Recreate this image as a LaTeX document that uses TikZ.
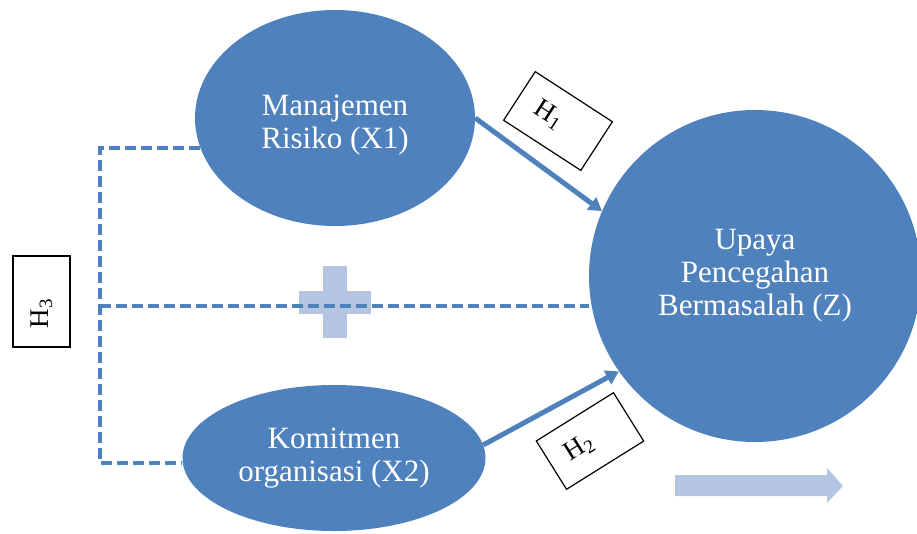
\documentclass[tikz,border=0pt]{standalone}
\usepackage{fontspec}
\setmainfont{Liberation Serif}
\usetikzlibrary{shapes.geometric,arrows.meta}
\definecolor{nodeblue}{HTML}{4F81BD}
\definecolor{lightblue}{HTML}{B4C5E1}
\begin{document}
\begin{tikzpicture}[x=1pt,y=-1pt,
  bubble/.style={fill=nodeblue, text=white, align=center, inner sep=0pt, font=\fontsize{31}{33}\selectfont},
  btext/.style={text=white, align=center, inner sep=0pt, font=\fontsize{31}{33}\selectfont},
  hyp/.style={draw=nodeblue, line width=5pt, -{Triangle[length=13pt,width=15pt]}},
  hdash/.style={draw=nodeblue, line width=3.4pt, dash pattern=on 11pt off 5pt},
  hbox/.style={draw=black, line width=1.2pt, fill=white, inner sep=0pt, font=\fontsize{27}{30}\selectfont}]
\clip (0,0) rectangle (917,533);
% plus sign
\fill[lightblue] (323,266) rectangle (347,338);
\fill[lightblue] (299,291) rectangle (371,314);
% bubbles
\node[bubble, ellipse, minimum width=280pt, minimum height=216pt] (x1) at (335,118) {};
\node[btext] (x1t) at ([yshift=-7pt]x1.center) {Manajemen\\Risiko (X1)};
\node[bubble, ellipse, minimum width=303pt, minimum height=146pt] (x2) at (334,458) {Komitmen\\organisasi (X2)};
\node[bubble, circle, minimum size=332pt] (z) at (755,276) {Upaya\\Pencegahan\\Bermasalah (Z)};
% dashed H3 connectors
\coordinate (vt) at (100,148);
\coordinate (vm) at (100,306);
\coordinate (vb) at (100,463);
\draw[hdash] (vt -| x1.192.5) -- (vt) -- (vb) -- (vb -| x2.west);
\draw[hdash] (vm) -- (vm -| z.west);
% hypothesis arrows
\draw[hyp] (x1.east) -- (z.157);
\draw[hyp] (x2.5) -- (z.215);
% labels
\node[hbox, rotate=90, minimum width=91pt, minimum height=57pt] (h3) at (41.5,301.5) {H\textsubscript{3}\hspace*{24pt}};
\node[hbox, rotate=-33, minimum width=92pt, minimum height=58pt] (h1) at (558,121) {H\textsubscript{1}\hspace*{22pt}};
\node[hbox, rotate=32, minimum width=91pt, minimum height=57pt] (h2) at (590,441) {\raisebox{-3pt}{H\textsubscript{2}}\hspace*{26pt}};
% bottom arrow
\fill[lightblue] (675,475) -- (827,475) -- (827,468) -- (843,486) -- (827,503) -- (827,496) -- (675,496) -- cycle;
\end{tikzpicture}
\end{document}
